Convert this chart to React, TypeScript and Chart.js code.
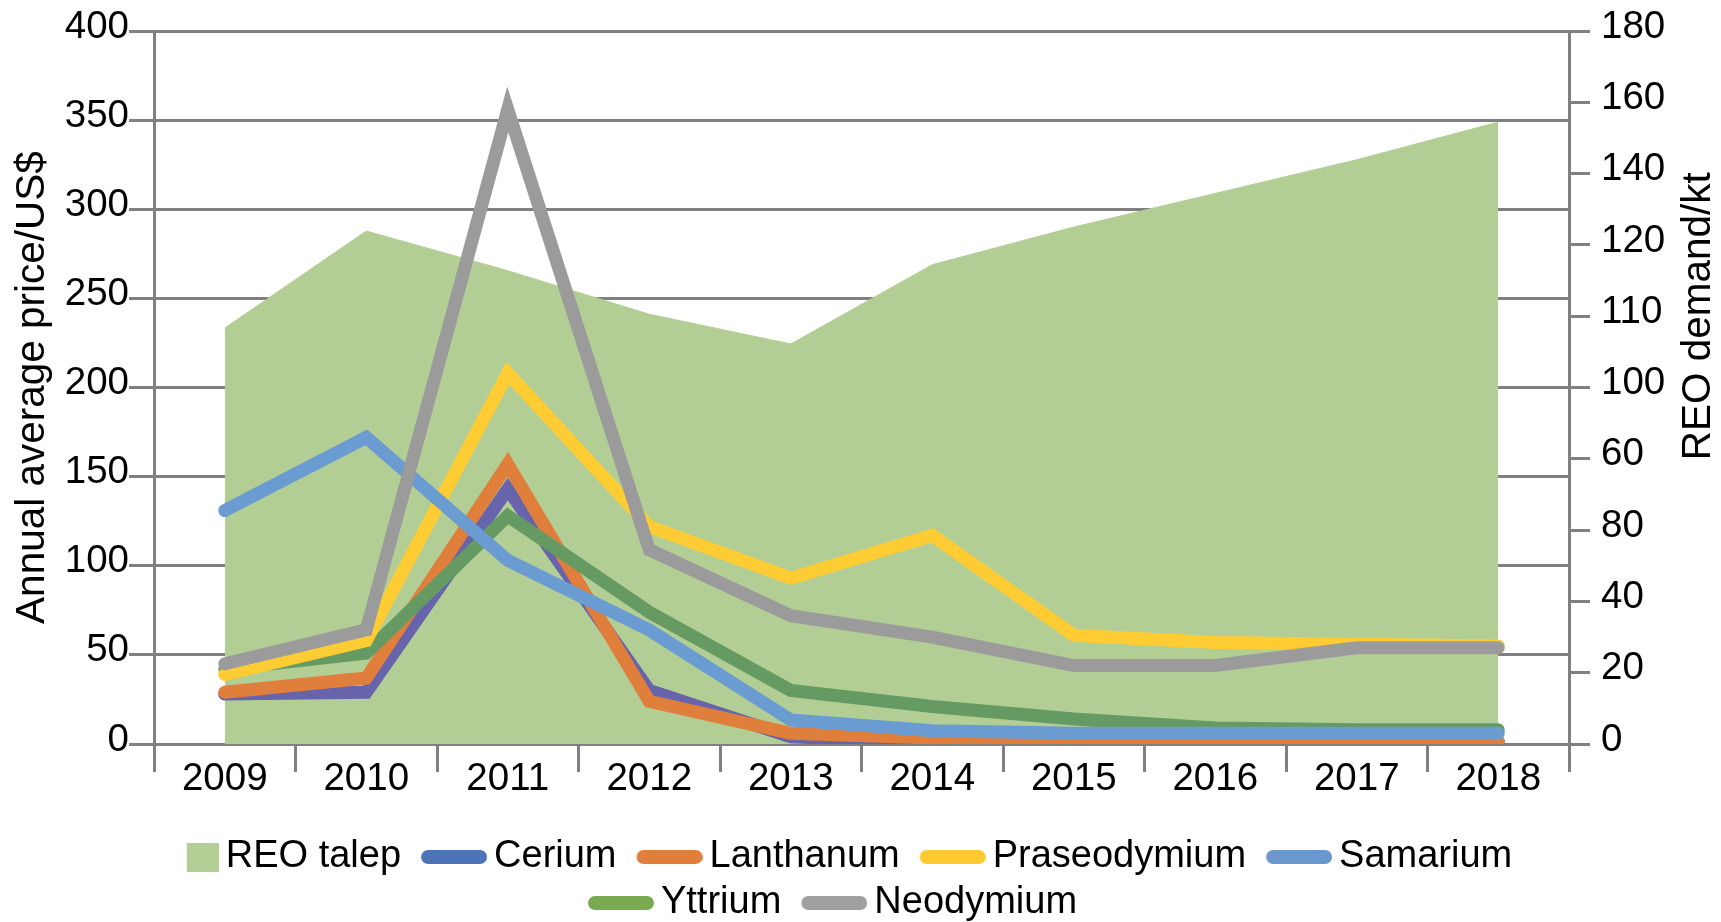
import React, { useEffect, useRef } from 'react';
import { Chart, registerables } from 'chart.js';

Chart.register(...registerables);

// ---------- data ----------
const years = ['2009', '2010', '2011', '2012', '2013', '2014', '2015', '2016', '2017', '2018'];
const reoDemand = [105, 129.5, 119.5, 108.5, 101, 121, 130.5, 139, 147.5, 157];
const cerium = [28, 29, 143, 30, 4, 1.3, 1, 1, 1, 1];
const lanthanum = [29, 37, 157, 24, 6, 3.4, 1.5, 1.5, 1.5, 1.5];
const praseodymium = [39, 58, 208, 122, 93, 117, 61, 57, 56, 55];
const samarium = [131, 172, 103, 64, 13.5, 7.5, 6, 6, 6, 6];
const yttrium = [42, 51, 128, 74, 30, 21, 14, 9, 8, 8];
const neodymium = [45, 64, 356, 109, 72, 60, 44, 44, 54, 54];
const demandTickLabels = ['0', '20', '40', '80', '60', '100', '110', '120', '140', '160', '180'];

const leftAxisTitle = 'Annual average price/US$';
const rightAxisTitle = 'REO demand/kt';

const FONT = '"Liberation Sans", Arial, Helvetica, sans-serif';
const AXIS_COLOR = '#808080';

function makeLineSwatch(color: string): HTMLCanvasElement {
  const c = document.createElement('canvas');
  c.width = 90;
  c.height = 32;
  const ctx = c.getContext('2d')!;
  ctx.strokeStyle = color;
  ctx.lineWidth = 14;
  ctx.lineCap = 'round';
  ctx.beginPath();
  ctx.moveTo(31, 16);
  ctx.lineTo(83, 16);
  ctx.stroke();
  return c;
}

function makeBoxSwatch(color: string): HTMLCanvasElement {
  const c = document.createElement('canvas');
  c.width = 90;
  c.height = 32;
  const ctx = c.getContext('2d')!;
  ctx.fillStyle = color;
  ctx.fillRect(58, 2, 32, 29);
  return c;
}

const rightTitlePlugin = {
  id: 'rightTitle',
  afterLayout(chart: any) {
    const lg = chart.legend;
    if (lg) {
      lg.left -= 35;
      lg.right -= 35;
    }
  },
  afterDraw(chart: any) {
    const s = chart.scales.y1;
    const area = chart.chartArea;
    const ctx = chart.ctx;
    ctx.save();
    ctx.translate(s.right - 22, area.top + (area.bottom - area.top) * 0.4);
    ctx.rotate(-Math.PI / 2);
    ctx.font = `40.5px ${FONT}`;
    ctx.fillStyle = '#000';
    ctx.textAlign = 'center';
    ctx.textBaseline = 'middle';
    ctx.fillText(rightAxisTitle, 0, 0);
    ctx.restore();
  },
};

export default function App() {
  const ref = useRef<HTMLCanvasElement | null>(null);

  useEffect(() => {
    if (!ref.current) return;
    Chart.defaults.font.family = FONT;
    Chart.defaults.color = '#000';

    const swatches = [
      makeBoxSwatch('#B2CE95'),
      makeLineSwatch('#4F73B8'),
      makeLineSwatch('#E07E3C'),
      makeLineSwatch('#FFC930'),
      makeLineSwatch('#6A98CE'),
      makeLineSwatch('#7AAA50'),
      makeLineSwatch('#A0A0A0'),
    ];

    const lineDs = (label: string, data: number[], color: string, order: number) => ({
      type: 'line' as const,
      label,
      data,
      borderColor: color,
      backgroundColor: color,
      borderWidth: 13,
      borderCapStyle: 'round' as const,
      borderJoinStyle: 'miter' as const,
      pointRadius: 0,
      tension: 0,
      fill: false,
      yAxisID: 'y',
      order,
    });

    const chart = new Chart(ref.current, {
      type: 'line',
      data: {
        labels: years,
        datasets: [
          {
            type: 'line',
            label: 'REO talep',
            data: reoDemand,
            borderColor: '#B2CE95',
            backgroundColor: '#B2CE95',
            borderWidth: 1,
            pointRadius: 0,
            tension: 0,
            fill: 'origin',
            yAxisID: 'y1',
            order: 10,
          },
          lineDs('Cerium', cerium, '#6764AC', 6),
          lineDs('Lanthanum', lanthanum, '#E07E3C', 5),
          lineDs('Praseodymium', praseodymium, '#FFCC33', 3),
          lineDs('Samarium', samarium, '#6A9BD1', 2),
          lineDs('Yttrium', yttrium, '#659A62', 4),
          lineDs('Neodymium', neodymium, '#9B9B9B', 1),
        ] as any,
      },
      options: {
        responsive: false,
        animation: false,
        layout: { padding: { top: 31, bottom: -10, left: 0, right: 0 } },
        plugins: {
          tooltip: { enabled: false },
          legend: {
            position: 'bottom',
            fullSize: false,
            align: 'center',
            labels: {
              usePointStyle: true,
              pointStyleWidth: 66,
              padding: 8,
              color: '#000',
              font: { size: 38, family: FONT },
              sort: (a: any, b: any) => a.datasetIndex - b.datasetIndex,
              generateLabels: (ch: any) => {
                const items = Chart.defaults.plugins.legend.labels.generateLabels(ch);
                return items.map((it: any) => ({ ...it, pointStyle: swatches[it.datasetIndex] }));
              },
            },
          },
        },
        scales: {
          x: {
            type: 'category',
            offset: true,
            grid: {
              offset: true,
              drawOnChartArea: false,
              drawTicks: true,
              tickLength: 28,
              color: AXIS_COLOR,
              lineWidth: 3,
            },
            border: { display: true, color: AXIS_COLOR, width: 3 },
            ticks: { color: '#000', font: { size: 38.5, family: FONT }, padding: -16, maxRotation: 0, autoSkip: false },
            afterFit: (s: any) => {
              s.height = 86;
            },
          },
          y: {
            type: 'linear',
            position: 'left',
            min: 0,
            max: 400,
            ticks: {
              stepSize: 50,
              color: '#000',
              font: { size: 38.5, family: FONT, lineHeight: 0.6 },
              padding: 0,
              labelOffset: -4,
            },
            grid: { color: AXIS_COLOR, lineWidth: 3, tickLength: 25, drawTicks: true },
            border: { display: true, color: AXIS_COLOR, width: 3 },
            title: {
              display: true,
              text: leftAxisTitle,
              color: '#000',
              font: { size: 40.5, family: FONT },
              padding: { top: 8.5, bottom: 0 },
            },
            afterFit: (s: any) => {
              s.width = 154;
            },
          },
          y1: {
            type: 'linear',
            position: 'right',
            min: 0,
            max: 180,
            ticks: {
              stepSize: 18,
              color: '#000',
              font: { size: 38.5, family: FONT, lineHeight: 0.6 },
              padding: 11,
              labelOffset: -4,
              callback: (_v: any, i: number) => demandTickLabels[i],
            },
            grid: { drawOnChartArea: false, color: AXIS_COLOR, lineWidth: 3, tickLength: 21, drawTicks: true },
            border: { display: true, color: AXIS_COLOR, width: 3 },
            afterFit: (s: any) => {
              s.width = 152;
            },
          },
        },
      } as any,
      plugins: [rightTitlePlugin],
    });

    return () => chart.destroy();
  }, []);

  return (
    <div>
      <canvas
        ref={ref}
        width={1721}
        height={922}
        style={{ position: 'fixed', left: 0, top: 0, display: 'block', background: '#fff' }}
      />
    </div>
  );
}
